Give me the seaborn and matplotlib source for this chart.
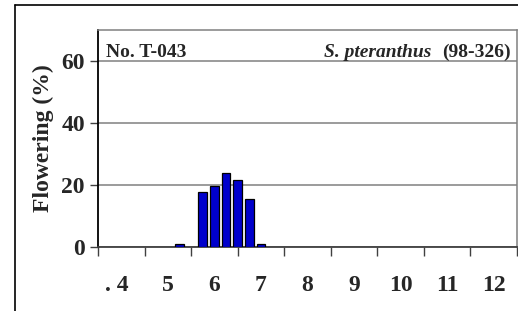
import numpy as np
import pandas as pd
import seaborn as sns
from matplotlib import pyplot as plt
from matplotlib.lines import Line2D
import matplotlib.transforms as mtransforms

# month labels along the x axis (one category per month)
month_labels = [". 4", "5", "6", "7", "8", "9", "10", "11", "12"]
# bar positions in quarter-month steps from the left edge of the axis
week_pos = [7, 9, 10, 11, 12, 13, 14]
# flowering percentage per quarter-month
flowering = [1.1, 17.6, 19.8, 23.8, 21.6, 15.6, 1.0]
y_ticks = [0, 20, 40, 60]

sns.set_theme(style="white")
plt.rcParams['font.family'] = ['Liberation Serif', 'DejaVu Serif']
plt.rcParams['font.weight'] = 'bold'

df = pd.DataFrame({'week': week_pos, 'flowering': flowering})

fig = plt.figure(figsize=(5.18, 3.11), dpi=100)
W, H = 518, 311
ax = fig.add_axes([98 / W, 1 - 247 / H, 419 / W, 217 / H])

sns.barplot(data=df, x='week', y='flowering', native_scale=True,
            width=0.74, color='#0000CC', saturation=1, errorbar=None,
            edgecolor='black', linewidth=0.9, ax=ax, zorder=3)

ax.set_xlim(0, 36)
ax.set_ylim(0, 70)

# y axis
ax.set_yticks(y_ticks)
ax.set_yticklabels([str(v) for v in y_ticks], fontsize=17, fontweight='bold')
ax.yaxis.grid(True, color='#808080', linewidth=1.1, zorder=0)
ax.tick_params(axis='y', direction='out', length=6, width=1, color='#404040', pad=3.5, left=True)
ax.set_ylabel('Flowering (%)', fontsize=17, fontweight='bold')
ax.yaxis.set_label_coords(-0.105, 0.5)

# x axis: ticks at month borders, labels in the middle
n = len(month_labels)
ax.set_xticks(np.arange(0, 4 * n + 1, 4))
ax.set_xticklabels([])
ax.set_xticks(np.arange(2, 4 * n, 4), minor=True)
ax.set_xticklabels(month_labels, minor=True, fontsize=17, fontweight='bold')
ax.tick_params(axis='x', which='major', direction='out', length=6.5, width=1, color='#404040', bottom=True)
ax.tick_params(axis='x', which='minor', length=0, pad=20)
ax.set_xlabel('')
first = ax.xaxis.get_minorticklabels()[0]
first.set_ha('right')
first.set_transform(first.get_transform() + mtransforms.ScaledTranslation(7 / 100, 0, fig.dpi_scale_trans))

for side, col, lw in [('left', 'black', 1.3), ('bottom', '#404040', 1.3),
                      ('top', '#808080', 1.1), ('right', '#808080', 1.1)]:
    ax.spines[side].set_visible(True)
    ax.spines[side].set_color(col)
    ax.spines[side].set_linewidth(lw)

# annotations in the top of the plot area
ax.text(0.019, 0.876, 'No. T-043', transform=ax.transAxes, fontsize=14,
        fontweight='bold', ha='left', va='baseline')
t2 = ax.text(0.986, 0.876, '(98-326)', transform=ax.transAxes, fontsize=14,
             fontweight='bold', ha='right', va='baseline')
ax.annotate('S. pteranthus', xy=(0, 0), xycoords=t2, xytext=(-8, 0),
            textcoords='offset points', fontsize=14, fontweight='bold',
            fontstyle='italic', ha='right', va='bottom')

# outer chart frame (left and top edges visible)
fig.add_artist(Line2D([15 / W, 15 / W], [0, 1 - 5 / H], color='black', linewidth=1.2))
fig.add_artist(Line2D([15 / W, 1], [1 - 5 / H, 1 - 5 / H], color='black', linewidth=1.2))

fig.savefig('out.png', dpi=100)
